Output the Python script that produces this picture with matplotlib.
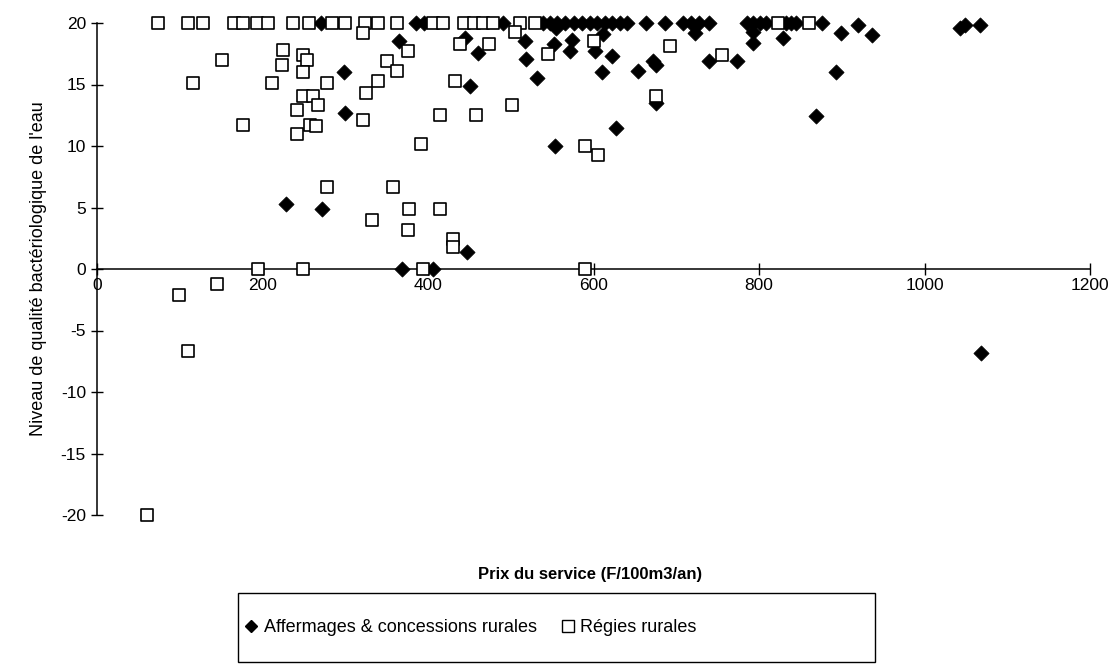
import matplotlib
matplotlib.use("Agg")
import matplotlib.pyplot as plt
from matplotlib.patches import Rectangle
from matplotlib.lines import Line2D

plt.rcParams['font.family'] = ['Liberation Sans', 'DejaVu Sans']
plt.rcParams['axes.unicode_minus'] = False

# Affermages & concessions rurales (diamonds)
aff_x = [271, 386, 395, 491, 539, 547, 556, 566, 576, 586, 596, 604, 614, 622, 632, 640,
         664, 686, 708, 718, 728, 740, 785, 793, 801, 809, 833, 839, 845, 876,
         555, 612, 723, 793, 899, 920, 936, 1043, 1049, 1067,
         365, 445, 517, 552, 574, 793, 829,
         460, 518, 572, 602, 622, 672, 676, 739, 773,
         298, 610, 654, 893, 532, 451, 676, 300, 869, 627, 553,
         229, 272, 447, 368, 406, 1068]
aff_y = [20, 20, 20, 20, 20, 20, 20, 20, 20, 20, 20, 20, 20, 20, 20, 20,
         20, 20, 20, 20, 20, 20, 20, 20, 20, 20, 20, 20, 20, 20,
         19.6, 19.1, 19.2, 19.3, 19.2, 19.8, 19.0, 19.6, 19.8, 19.8,
         18.5, 18.8, 18.5, 18.3, 18.6, 18.4, 18.8,
         17.6, 17.1, 17.7, 17.7, 17.3, 16.9, 16.6, 16.9, 16.9,
         16.0, 16.0, 16.1, 16.0, 15.5, 14.9, 13.5, 12.7, 12.4, 11.5, 10.0,
         5.3, 4.9, 1.4, 0, 0, -6.8]

# Régies rurales (squares)
reg_x = [74, 110, 128, 165, 177, 193, 207, 237, 256, 284, 300, 324, 340, 362, 406, 418,
         443, 455, 467, 479, 511, 529, 823, 860,
         322, 505, 439, 474, 601,
         225, 376, 545, 249, 755, 692,
         151, 254, 223, 351, 249, 363,
         116, 212, 278, 339, 433,
         249, 261, 325, 676, 267, 501, 242,
         322, 415, 458, 176, 257, 265, 242,
         392, 590, 606, 278, 358,
         377, 415, 332, 376, 430, 430,
         195, 249, 394, 590, 145, 99, 110, 60]
reg_y = [20, 20, 20, 20, 20, 20, 20, 20, 20, 20, 20, 20, 20, 20, 20, 20,
         20, 20, 20, 20, 20, 20, 20, 20,
         19.2, 19.3, 18.3, 18.3, 18.5,
         17.8, 17.7, 17.5, 17.4, 17.4, 18.1,
         17.0, 17.0, 16.6, 16.9, 16.0, 16.1,
         15.1, 15.1, 15.1, 15.3, 15.3,
         14.1, 14.1, 14.3, 14.1, 13.3, 13.3, 12.9,
         12.1, 12.5, 12.5, 11.7, 11.7, 11.6, 11.0,
         10.2, 10.0, 9.3, 6.7, 6.7,
         4.9, 4.9, 4.0, 3.2, 2.4, 1.8,
         0, 0, 0, 0, -1.2, -2.1, -6.7, -20]

xticks = [0, 200, 400, 600, 800, 1000, 1200]
yticks = [-20, -15, -10, -5, 0, 5, 10, 15, 20]

W, H = 1116, 664
fig = plt.figure(figsize=(W / 100, H / 100), dpi=100)
ax = fig.add_axes([97 / W, 1 - 515 / H, (1090 - 97) / W, (515 - 23) / H])

ax.scatter(aff_x, aff_y, marker='D', s=60, c='black', edgecolors='black',
           linewidths=0.5, clip_on=False, zorder=3)
ax.scatter(reg_x, reg_y, marker='s', s=85, c='white', edgecolors='black',
           linewidths=1.2, clip_on=False, zorder=4)

ax.set_xlim(0, 1200)
ax.set_ylim(-20, 20)
ax.spines['bottom'].set_position(('data', 0))
ax.spines['top'].set_visible(False)
ax.spines['right'].set_visible(False)
ax.spines['left'].set_linewidth(1.1)
ax.spines['bottom'].set_linewidth(1.1)
ax.set_xticks(xticks)
ax.set_yticks(yticks)
ax.tick_params(direction='inout', length=9, width=1, labelsize=12.5, colors='black')
ax.tick_params(axis='x', pad=2)

ax.set_ylabel("Niveau de qualité bactériologique de l'eau", fontsize=13)
ax.yaxis.set_label_coords(-0.05, 0.5)

fig.text(590 / W, 1 - 575 / H, "Prix du service (F/100m3/an)", ha='center', va='center',
         fontsize=12, fontweight='bold')

# legend box
fig.patches.append(Rectangle((238 / W, 1 - 662 / H), (875 - 238) / W, (662 - 593) / H,
                             transform=fig.transFigure, fill=False, edgecolor='black',
                             linewidth=1.0))
handles = [Line2D([], [], marker='D', ls='none', color='black', markersize=6),
           Line2D([], [], marker='s', ls='none', markerfacecolor='white',
                  markeredgecolor='black', markersize=8)]
fig.legend(handles, ["Affermages & concessions rurales", "Régies rurales"],
           loc='center left', bbox_to_anchor=(226 / W, 1 - 628 / H), frameon=False,
           ncol=2, fontsize=13, handlelength=1.0, handletextpad=0.2, columnspacing=1.2)

fig.savefig("out.png", dpi=100)
